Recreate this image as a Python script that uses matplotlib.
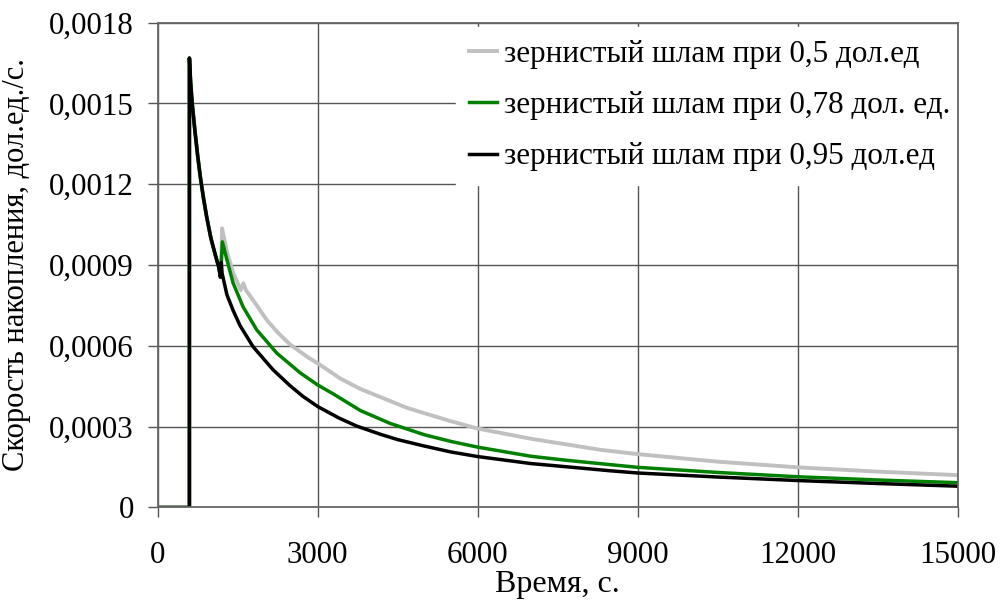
import matplotlib
matplotlib.use("Agg")
import matplotlib.pyplot as plt
from matplotlib.ticker import FuncFormatter

plt.rcParams['font.family'] = ['Liberation Serif', 'DejaVu Serif']

# common start (all three series coincide up to ~1180 s)
t_start = [0, 598, 598, 620, 650, 700, 750, 800, 860, 920, 1000, 1080, 1150, 1180]
v_start = [0, 0, 0.001668, 0.00158, 0.00150, 0.00140, 0.00131, 0.00123, 0.00115, 0.00108,
           0.00100, 0.00094, 0.00089, 0.000855]

# зернистый шлам при 0,5 дол.ед
t_gray = [1195, 1210, 1300, 1420, 1560, 1610, 1660, 1700, 1860, 2047, 2250, 2484, 2800, 3103,
          3422, 3800, 4300, 4672, 5000, 5500, 6000, 7000, 8300, 9000, 10500, 12000, 13500, 15000]
v_gray = [0.00091, 0.001036, 0.00095, 0.00087, 0.000807, 0.000832, 0.000805, 0.000795, 0.00075,
          0.000696, 0.00065, 0.000605, 0.00056, 0.000522, 0.000479, 0.00044, 0.0004, 0.00037,
          0.00035, 0.00032, 0.000293, 0.000255, 0.000214, 0.000198, 0.00017, 0.000149,
          0.000133, 0.00012]

# зернистый шлам при 0,78 дол. ед.
t_green = [1195, 1215, 1300, 1417, 1603, 1860, 2235, 2672, 3000, 3290, 3800, 4359, 5000,
           5500, 6000, 7000, 7672, 8484, 9000, 10500, 12000, 13500, 15000]
v_green = [0.00091, 0.000986, 0.00092, 0.000833, 0.000745, 0.000659, 0.000573, 0.0005,
           0.000455, 0.000422, 0.00036, 0.000312, 0.00027, 0.000245, 0.000224, 0.00019,
           0.000175, 0.000159, 0.000149, 0.00013, 0.000114, 0.000102, 0.000092]

# зернистый шлам при 0,95 дол.ед
t_black = [1195, 1210, 1300, 1420, 1547, 1790, 2166, 2484, 2728, 3000, 3400, 3735, 4172,
           4500, 5000, 5500, 6000, 7000, 8500, 9000, 10500, 12000, 13500, 15000]
v_black = [0.00091, 0.00087, 0.00079, 0.00073, 0.000675, 0.000597, 0.000511, 0.000452,
           0.000412, 0.000375, 0.000332, 0.000302, 0.000272, 0.000252, 0.000228, 0.000206,
           0.000189, 0.000163, 0.000136, 0.000128, 0.000113, 0.0001, 0.000089, 0.000079]

labels = ['зернистый шлам при 0,5 дол.ед',
          'зернистый шлам при 0,78 дол. ед.',
          'зернистый шлам при 0,95 дол.ед']

xticks = [0, 3000, 6000, 9000, 12000, 15000]
yticks = [0, 0.0003, 0.0006, 0.0009, 0.0012, 0.0015, 0.0018]

fig = plt.figure(figsize=(10, 6.02), dpi=100)
ax = fig.add_axes([0.1575, 0.157, 0.8005, 0.8056])

ax.plot(t_start + t_gray, v_start + v_gray, color='#c0c0c0', lw=2.8, label=labels[0])
ax.plot(t_start + t_green, v_start + v_green, color='#008000', lw=2.5, label=labels[1])
ax.plot(t_start + t_black, v_start + v_black, color='black', lw=2.5, label=labels[2])

ax.set_xlim(0, 15000)
ax.set_ylim(0, 0.0018)
ax.set_xticks(xticks)
ax.set_yticks(yticks)
ax.yaxis.set_major_formatter(FuncFormatter(lambda v, p: '0' if v == 0 else f'{v:.4f}'.replace('.', ',')))
ax.xaxis.set_major_formatter(FuncFormatter(lambda v, p: f'{int(v)}'))
ax.grid(True, color='#555555', lw=1)
ax.set_axisbelow(True)
for s in ax.spines.values():
    s.set_color('#666666')
    s.set_linewidth(1.3)
    s.set_zorder(6)
ax.tick_params(direction='out', length=7, width=1, color='#555555', labelsize=22.3)
ax.tick_params(axis='y', pad=10)
ax.tick_params(axis='x', pad=17)

ax.set_xlabel('Время, с.', fontsize=23, labelpad=0)
ax.set_ylabel('Скорость накопления, дол.ед./с.', fontsize=22, labelpad=13)

leg = ax.legend(loc='upper right', bbox_to_anchor=(1.01, 0.998), fontsize=22.4,
                frameon=True, fancybox=False, framealpha=1, edgecolor='white',
                facecolor='white', handlelength=0.9, handletextpad=0.22,
                labelspacing=0.72, borderaxespad=0.1, borderpad=0.42)
# keep the spines visible over the legend box
leg.set_zorder(5)

plt.savefig('out.png', dpi=100)
